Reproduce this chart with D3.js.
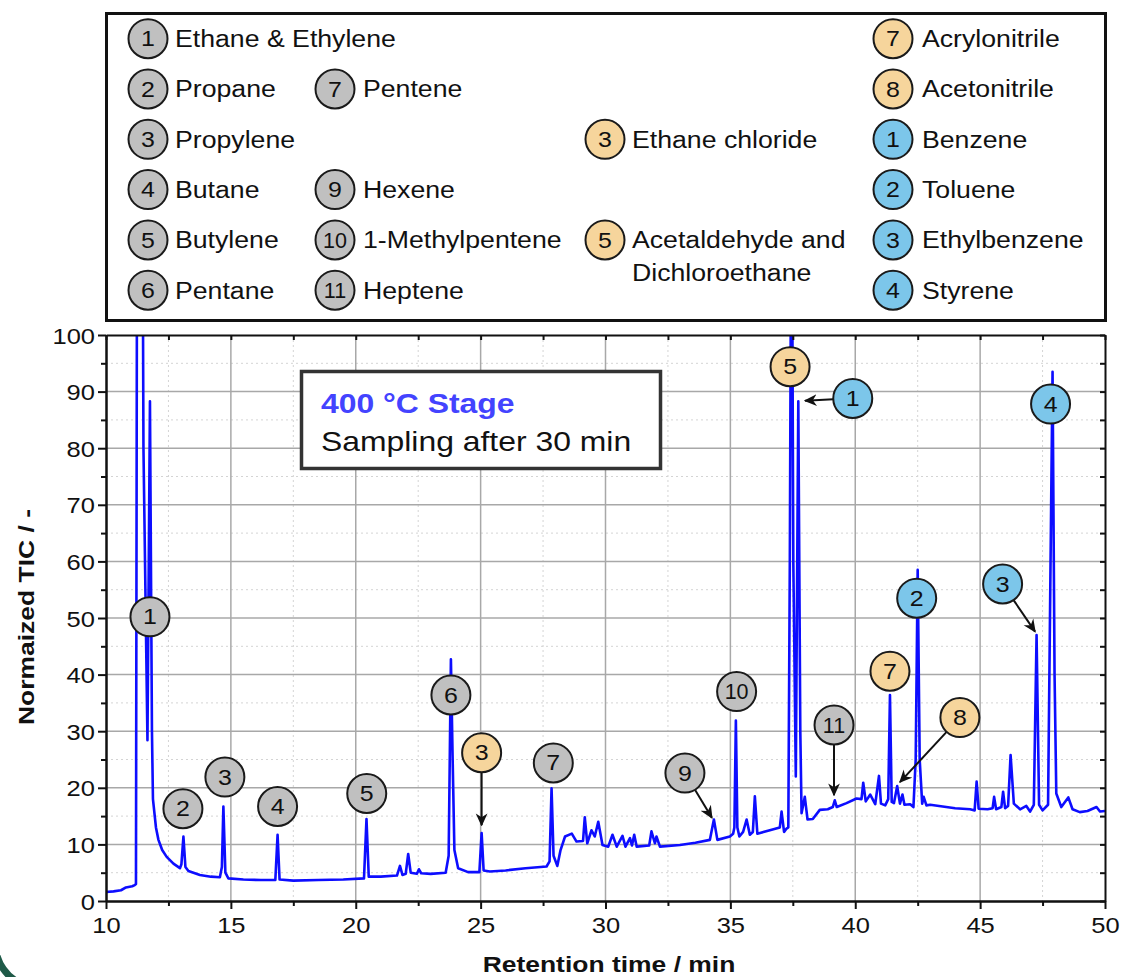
<!DOCTYPE html>
<html>
<head>
<meta charset="utf-8">
<script src="https://cdn.jsdelivr.net/npm/d3@7"></script>
<style>
  body { margin: 0; background: #fff; }
  svg { display: block; }
  text { font-family: "Liberation Sans", Arial, sans-serif; }
</style>
</head>
<body>
<svg id="chart" width="1122" height="977"></svg>
<script>
// retention time (min) and normalized TIC
const times = [10.0, 10.3, 10.6, 10.8, 11.05, 11.15, 11.2, 11.25, 11.45, 11.5, 11.66, 11.76, 11.84, 11.88, 12.0, 12.1, 12.25, 12.43, 12.7, 12.96, 13.02, 13.1, 13.18, 13.3, 13.76, 14.2, 14.56, 14.64, 14.7, 14.78, 14.9, 15.5, 16.2, 16.78, 16.87, 16.95, 17.5, 18.5, 19.5, 20.33, 20.43, 20.52, 21.0, 21.65, 21.77, 21.87, 22.0, 22.1, 22.2, 22.45, 22.53, 22.62, 23.0, 23.6, 23.72, 23.81, 23.88, 23.95, 24.1, 24.5, 24.95, 25.04, 25.12, 25.37, 26.0, 26.8, 27.64, 27.76, 27.84, 27.92, 28.07, 28.2, 28.38, 28.65, 28.84, 29.1, 29.17, 29.27, 29.44, 29.57, 29.71, 29.88, 30.11, 30.28, 30.45, 30.68, 30.8, 30.98, 31.06, 31.15, 31.25, 31.75, 31.84, 31.98, 32.04, 32.18, 32.98, 33.6, 34.18, 34.34, 34.48, 34.98, 35.11, 35.16, 35.22, 35.28, 35.36, 35.51, 35.65, 35.78, 35.9, 35.98, 36.08, 36.58, 36.98, 37.05, 37.15, 37.25, 37.32, 37.38, 37.45, 37.52, 37.62, 37.72, 37.8, 37.85, 37.98, 38.09, 38.3, 38.58, 38.9, 39.1, 39.18, 39.26, 39.65, 40.05, 40.25, 40.32, 40.42, 40.6, 40.8, 40.95, 41.03, 41.2, 41.32, 41.39, 41.46, 41.55, 41.68, 41.79, 41.89, 41.97, 42.2, 42.33, 42.42, 42.5, 42.58, 42.63, 42.68, 42.74, 42.85, 43.0, 43.5, 44.0, 44.6, 44.78, 44.86, 44.94, 45.3, 45.5, 45.56, 45.64, 45.85, 45.92, 46.0, 46.12, 46.22, 46.35, 46.6, 46.85, 47.0, 47.15, 47.26, 47.36, 47.5, 47.72, 47.82, 47.9, 47.98, 48.05, 48.25, 48.53, 48.7, 48.99, 49.3, 49.66, 49.8, 50.0];
const tic = [1.6, 1.7, 1.9, 2.4, 2.6, 2.8, 3.0, 140, 140, 80, 28.4, 88.3, 30, 18, 13, 10.8, 9, 7.8, 6.6, 5.8, 6.5, 11.4, 6, 5.3, 4.6, 4.3, 4.2, 6, 16.7, 5, 4.0, 3.8, 3.7, 3.7, 11.7, 3.8, 3.6, 3.7, 3.8, 4.0, 14.5, 4.3, 4.3, 4.5, 6.2, 4.6, 4.8, 8.3, 5.0, 4.8, 5.6, 4.9, 4.8, 5.0, 8, 42.7, 25, 9, 5.8, 5.1, 5.1, 12.0, 5.4, 5.2, 5.4, 5.8, 6.1, 7, 19.9, 8, 6.2, 9, 11.4, 11.9, 10.5, 10.6, 14.8, 10.2, 12.5, 11.4, 14.0, 9.9, 9.6, 11.7, 9.6, 11.5, 9.6, 11.1, 9.8, 11.7, 9.6, 9.8, 12.3, 10.2, 11.4, 9.6, 9.9, 10.3, 10.8, 14.4, 10.8, 11.4, 11.9, 13, 31.9, 13, 11.4, 12.2, 14.4, 11.7, 12.2, 18.5, 11.9, 12.5, 13.0, 15.8, 12.2, 12.8, 13, 60, 140, 60, 22, 88.3, 30, 15.5, 18.4, 14.4, 14.5, 16.1, 16.2, 16.6, 17.8, 16.6, 17.3, 18.1, 18, 20.9, 17.6, 18.8, 17.1, 22.1, 17.2, 16.9, 18, 36.4, 17.5, 17.3, 20.3, 17.2, 18.8, 17, 17.1, 16.6, 25, 58.5, 25, 21.1, 17.2, 18.4, 16.9, 17.0, 16.7, 16.4, 16.2, 16.0, 21.1, 16.3, 16.2, 16.4, 18.4, 16.2, 16.6, 19.3, 16.4, 16.8, 25.8, 17.2, 16.2, 16.8, 15.8, 17, 47.0, 17, 16.0, 17, 60, 93.5, 40, 19, 16.6, 18.3, 16.2, 15.7, 15.9, 16.6, 15.8, 15.9];

const xTicks = [10, 15, 20, 25, 30, 35, 40, 45, 50];
const yTicks = [0, 10, 20, 30, 40, 50, 60, 70, 80, 90, 100];

// legend columns, one slot per row (null = empty slot)
const legendCol1 = [['1', 'Ethane & Ethylene', 'gray'], ['2', 'Propane', 'gray'], ['3', 'Propylene', 'gray'], ['4', 'Butane', 'gray'], ['5', 'Butylene', 'gray'], ['6', 'Pentane', 'gray']];
const legendCol2 = [null, ['7', 'Pentene', 'gray'], null, ['9', 'Hexene', 'gray'], ['10', '1-Methylpentene', 'gray'], ['11', 'Heptene', 'gray']];
const legendCol3 = [null, null, ['3', 'Ethane chloride', 'orange'], null, ['5', 'Acetaldehyde and|Dichloroethane', 'orange'], null];
const legendCol4 = [['7', 'Acrylonitrile', 'orange'], ['8', 'Acetonitrile', 'orange'], ['1', 'Benzene', 'blue'], ['2', 'Toluene', 'blue'], ['3', 'Ethylbenzene', 'blue'], ['4', 'Styrene', 'blue']];

// peak callouts: label, group, label position (t, TIC), optional arrow tip
const callouts = [
  { n: '1', kind: 'gray', t: 11.76, v: 50.2 },
  { n: '2', kind: 'gray', t: 13.08, v: 16.3 },
  { n: '3', kind: 'gray', t: 14.76, v: 21.9 },
  { n: '4', kind: 'gray', t: 16.87, v: 16.7 },
  { n: '5', kind: 'gray', t: 20.44, v: 19.0 },
  { n: '6', kind: 'gray', t: 23.81, v: 36.4 },
  { n: '3', kind: 'orange', t: 25.04, v: 26.2, to: [25.04, 13.4] },
  { n: '7', kind: 'gray', t: 27.91, v: 24.4 },
  { n: '9', kind: 'gray', t: 33.18, v: 22.6, to: [34.26, 14.7] },
  { n: '10', kind: 'gray', t: 35.25, v: 37.0 },
  { n: '11', kind: 'gray', t: 39.15, v: 31.1, to: [39.15, 18.7] },
  { n: '5', kind: 'orange', t: 37.39, v: 94.4 },
  { n: '1', kind: 'blue', t: 39.9, v: 88.8, to: [37.99, 88.4] },
  { n: '4', kind: 'blue', t: 47.82, v: 87.8 },
  { n: '2', kind: 'blue', t: 42.46, v: 53.5 },
  { n: '3', kind: 'blue', t: 45.9, v: 56.0, to: [47.2, 47.6] },
  { n: '7', kind: 'orange', t: 41.39, v: 40.6 },
  { n: '8', kind: 'orange', t: 44.19, v: 32.4, to: [41.79, 21.0] }
];

const fills = { gray: '#c0c0c0', orange: '#f6d59c', blue: '#7cc6ea' };
const SX = 1.16; // the original text runs a little wide
const R = 19.5;

const svg = d3.select('#chart');
const plotLeft = 106, plotRight = 1105, plotTop = 335, plotBottom = 901;

const x = d3.scaleLinear().domain([10, 50]).range([plotLeft, plotRight]);
const y = d3.scaleLinear().domain([0, 100]).range([plotBottom, plotTop]);

function wideText(parent, px, py, str, size, anchor, extra) {
  const g = parent.append('g').attr('transform', 'translate(' + px + ',' + py + ')' + (extra || '') + ' scale(' + SX + ',1)');
  return g.append('text')
    .attr('text-anchor', anchor || 'start')
    .attr('font-size', size)
    .text(str);
}

// defs
const defs = svg.append('defs');
defs.append('clipPath').attr('id', 'plotClip')
  .append('rect').attr('x', plotLeft).attr('y', plotTop).attr('width', plotRight - plotLeft).attr('height', plotBottom - plotTop);
defs.append('marker')
  .attr('id', 'arrow')
  .attr('viewBox', '0 0 10 10')
  .attr('refX', 9).attr('refY', 5)
  .attr('markerWidth', 13).attr('markerHeight', 13)
  .attr('markerUnits', 'userSpaceOnUse')
  .attr('orient', 'auto')
  .append('path')
  .attr('d', 'M0,0.5 L10,5 L0,9.5 L3,5 Z')
  .attr('fill', '#111');

// grid
const minorX = d3.range(12.5, 50, 5);
const minorY = d3.range(5, 100, 10);
const grid = svg.append('g');
grid.selectAll('line.mx').data(minorX).enter().append('line')
  .attr('x1', d => x(d)).attr('x2', d => x(d)).attr('y1', plotTop).attr('y2', plotBottom)
  .attr('stroke', '#d4d4d4').attr('stroke-width', 1).attr('stroke-dasharray', '2,3');
grid.selectAll('line.my').data(minorY).enter().append('line')
  .attr('y1', d => y(d)).attr('y2', d => y(d)).attr('x1', plotLeft).attr('x2', plotRight)
  .attr('stroke', '#d4d4d4').attr('stroke-width', 1).attr('stroke-dasharray', '2,3');
grid.selectAll('line.gx').data(xTicks.slice(1, -1)).enter().append('line')
  .attr('x1', d => x(d)).attr('x2', d => x(d)).attr('y1', plotTop).attr('y2', plotBottom)
  .attr('stroke', '#a8a8a8').attr('stroke-width', 1.5);
grid.selectAll('line.gy').data(yTicks.slice(1, -1)).enter().append('line')
  .attr('y1', d => y(d)).attr('y2', d => y(d)).attr('x1', plotLeft).attr('x2', plotRight)
  .attr('stroke', '#a8a8a8').attr('stroke-width', 1.5);

// trace
const line = d3.line().x((d, i) => x(times[i])).y(d => y(d));
svg.append('path')
  .datum(tic)
  .attr('clip-path', 'url(#plotClip)')
  .attr('d', line)
  .attr('fill', 'none')
  .attr('stroke', '#0d0dff')
  .attr('stroke-width', 2.6)
  .attr('stroke-linejoin', 'round');

// axes
const xAxis = svg.append('g').attr('transform', 'translate(0,' + plotBottom + ')')
  .call(d3.axisBottom(x).tickValues(xTicks).tickSize(8).tickSizeOuter(0));
svg.append('g').attr('transform', 'translate(0,' + plotBottom + ')')
  .call(d3.axisBottom(x).tickValues(minorX).tickSize(5).tickFormat('').tickSizeOuter(0));
const yAxis = svg.append('g').attr('transform', 'translate(' + plotLeft + ',0)')
  .call(d3.axisLeft(y).tickValues(yTicks).tickSize(8).tickSizeOuter(0));
svg.append('g').attr('transform', 'translate(' + plotLeft + ',0)')
  .call(d3.axisLeft(y).tickValues(minorY).tickSize(5).tickFormat('').tickSizeOuter(0));
// inward ticks on top and right frame
svg.append('g').attr('transform', 'translate(0,' + plotTop + ')')
  .call(d3.axisTop(x).tickValues(xTicks.concat(minorX)).tickSize(-5).tickFormat('').tickSizeOuter(0));
svg.append('g').attr('transform', 'translate(' + plotRight + ',0)')
  .call(d3.axisRight(y).tickValues(yTicks.concat(minorY)).tickSize(-5).tickFormat('').tickSizeOuter(0));

svg.selectAll('.domain').attr('stroke', '#111').attr('stroke-width', 2);
svg.selectAll('.tick line').attr('stroke', '#111').attr('stroke-width', 2);

xAxis.selectAll('text')
  .attr('font-size', 22).attr('fill', '#111')
  .attr('font-family', '"Liberation Sans", Arial, sans-serif')
  .attr('y', 0).attr('dy', 32)
  .attr('transform', 'scale(' + SX + ',1)');
yAxis.selectAll('text')
  .attr('font-size', 22).attr('fill', '#111')
  .attr('font-family', '"Liberation Sans", Arial, sans-serif')
  .attr('x', -11 / SX).attr('dy', 8)
  .attr('transform', 'scale(' + SX + ',1)');

// axis titles
wideText(svg, 609, 972, 'Retention time / min', 22.8, 'middle').attr('font-weight', 'bold').attr('fill', '#111');
wideText(svg, 34, 617, 'Normaized TIC / -', 22.8, 'middle', ' rotate(-90)').attr('font-weight', 'bold').attr('fill', '#111');

// stage box
svg.append('rect')
  .attr('x', 301.5).attr('y', 371.5).attr('width', 359).attr('height', 97)
  .attr('fill', '#fff').attr('stroke', '#333').attr('stroke-width', 3.5);
wideText(svg, 321, 413, '400 \u00B0C Stage', 27.5).attr('font-weight', 'bold').attr('fill', '#4343ff');
wideText(svg, 321, 451, 'Sampling after 30 min', 27.5).attr('fill', '#111');

// callouts
function badge(parent, cx, cy, label, kind) {
  parent.append('circle')
    .attr('cx', cx).attr('cy', cy).attr('r', R)
    .attr('fill', fills[kind]).attr('stroke', '#1a1a1a').attr('stroke-width', 2);
  const g = parent.append('g')
    .attr('transform', 'translate(' + cx + ',' + (cy + 7.6) + ') scale(' + (label.length > 1 ? 1.0 : SX) + ',1)');
  g.append('text').attr('text-anchor', 'middle').attr('font-size', 21.5).attr('fill', '#111').text(label);
}

const calloutLayer = svg.append('g');
callouts.forEach(function(c) {
  const cx = x(c.t), cy = y(c.v);
  if (c.to) {
    const tx = x(c.to[0]), ty = y(c.to[1]);
    const a = Math.atan2(ty - cy, tx - cx);
    calloutLayer.append('line')
      .attr('x1', cx + R * Math.cos(a)).attr('y1', cy + R * Math.sin(a))
      .attr('x2', tx).attr('y2', ty)
      .attr('stroke', '#111').attr('stroke-width', 2)
      .attr('marker-end', 'url(#arrow)');
  }
  badge(calloutLayer, cx, cy, c.n, c.kind);
});

// legend
const legend = svg.append('g');
legend.append('rect')
  .attr('x', 106.5).attr('y', 13.5).attr('width', 999).attr('height', 307)
  .attr('fill', '#fff').attr('stroke', '#111').attr('stroke-width', 3);

const rowY = d3.range(6).map(i => 38.7 + i * 50.3);
const columns = [
  { items: legendCol1, cx: 148, tx: 175 },
  { items: legendCol2, cx: 335, tx: 363 },
  { items: legendCol3, cx: 605, tx: 632 },
  { items: legendCol4, cx: 893, tx: 922 }
];
columns.forEach(function(col) {
  col.items.forEach(function(item, i) {
    if (!item) return;
    badge(legend, col.cx, rowY[i], item[0], item[2]);
    item[1].split('|').forEach(function(part, j) {
      wideText(legend, col.tx, rowY[i] + 8.4 + j * 33, part, 23).attr('fill', '#111');
    });
  });
});

// slide corner
svg.append('path')
  .attr('d', 'M -3 956 Q 2 972 16 981')
  .attr('fill', 'none').attr('stroke', '#1f5a48').attr('stroke-width', 7);
</script>
</body>
</html>
